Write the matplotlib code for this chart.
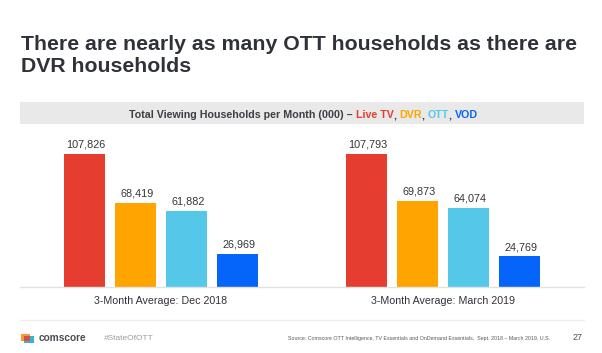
import numpy as np
import matplotlib
matplotlib.use("Agg")
import matplotlib.pyplot as plt
from matplotlib.patches import Rectangle

periods = ["3-Month Average: Dec 2018", "3-Month Average: March 2019"]
series_names = ["Live TV", "DVR", "OTT", "VOD"]
live_tv = [107826, 107793]
dvr = [68419, 69873]
ott = [61882, 64074]
vod = [26969, 24769]
colors = ["#e53d30", "#ffa400", "#55c8ea", "#0565fb"]

W, H = 602, 353
plt.rcParams["font.family"] = ["Liberation Sans", "DejaVu Sans"]

fig = plt.figure(figsize=(W / 100, H / 100), dpi=100)


def px(x, y):
    # reference pixels -> figure fraction
    return x / W, 1 - y / H


# title
fig.text(*px(21, 50), "There are nearly as many OTT households as there are", fontsize=15.3,
         fontweight="bold", color="#2f3238", va="baseline")
fig.text(*px(21, 72), "DVR households", fontsize=15.3, fontweight="bold", color="#2f3238", va="baseline")

# grey header band
fig.add_artist(Rectangle(px(20, 124), 564 / W, 22 / H, transform=fig.transFigure, color="#e9e9e9", lw=0))

# header pieces, placed one after the other
head_parts = [("Total Viewing Households per Month (000) \u2013 ", "#3c3f44"), ("Live TV", colors[0]),
              (", ", "#3c3f44"), ("DVR", colors[1]), (", ", "#3c3f44"), ("OTT", colors[2]),
              (", ", "#3c3f44"), ("VOD", colors[3])]
renderer = fig.canvas.get_renderer()
x_pos = 129
for txt, c in head_parts:
    fig.text(*px(x_pos, 118), txt, fontsize=7.65, fontweight="bold", color=c, va="baseline", ha="left")
    # trailing spaces are measured through a stand-in character
    probe = fig.text(0, 0, txt.replace(" ", "\u00a0"), fontsize=7.65, fontweight="bold")
    x_pos += probe.get_window_extent(renderer).width
    probe.remove()

# bars
ax = fig.add_axes([20 / W, 1 - 287 / H, 564 / W, 133 / H])
x = np.arange(len(periods))
bar_w = 41 / 282
step = 51.2 / 282
all_series = [live_tv, dvr, ott, vod]
for i, vals in enumerate(all_series):
    off = (i - 1.5) * step
    bars = ax.bar(x + off, vals, bar_w, color=colors[i], label=series_names[i])
    for b, v in zip(bars, vals):
        ax.annotate(f"{v:,}", (b.get_x() + b.get_width() / 2, v), xytext=(1, 3),
                    textcoords="offset points", ha="center", va="bottom", fontsize=7.8, color="#33363b")

ax.set_xlim(-0.5, 1.5)
ax.set_ylim(0, 107826)
ax.set_xticks(x)
ax.set_xticklabels(periods, fontsize=7.7, color="#2f3238")
ax.tick_params(axis="x", length=0, pad=6.5)
ax.set_yticks([])
for s in ["top", "left", "right"]:
    ax.spines[s].set_visible(False)
ax.spines["bottom"].set_color("#e2e2e2")
ax.spines["bottom"].set_linewidth(1)
ax.patch.set_alpha(0)

# footer rule
fig.add_artist(plt.Line2D([20 / W, 584 / W], [1 - 319.5 / H] * 2, color="#eeeeee", lw=1))

# comscore logo, small stacked blocks
fig.add_artist(Rectangle(px(21, 341), 9 / W, 7.5 / H, transform=fig.transFigure, color="#f39a3d", lw=0))
fig.add_artist(Rectangle(px(24, 343), 10 / W, 7 / H, transform=fig.transFigure, color="#35b4d8", lw=0))
fig.add_artist(Rectangle(px(24, 341), 6 / W, 5 / H, transform=fig.transFigure, color="#d9503f", lw=0))

fig.text(*px(39, 338), "comscore", fontsize=7.3, fontweight="bold", color="#4a4d52", va="center")
fig.text(*px(104, 338.5), "#StateOfOTT", fontsize=6, color="#9a9da1", va="center")
fig.text(*px(288, 338.5), "Source: Comscore OTT Intelligence, TV Essentials and OnDemand Essentials,  Sept. 2018 \u2013 March 2019, U.S.",
         fontsize=3.75, color="#55585c", va="center")
fig.text(*px(583, 338), "27", fontsize=6.4, color="#4a4d52", va="center", ha="right")

fig.savefig("out.png", dpi=100)
